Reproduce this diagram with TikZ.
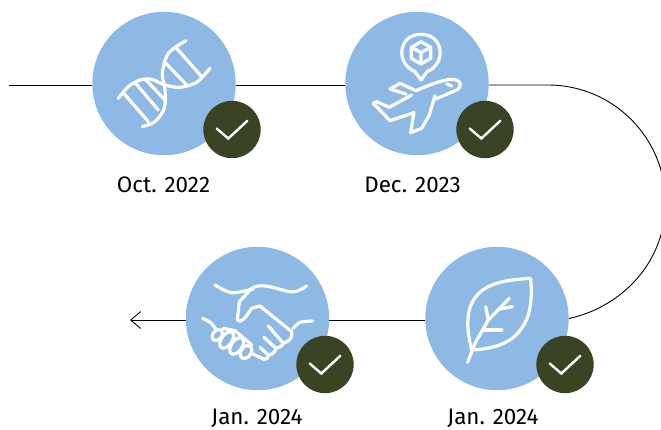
\documentclass[tikz,border=0pt]{standalone}
\usepackage{fontspec}
\setmainfont{Fira Sans}
\usetikzlibrary{arrows.meta}
\definecolor{stepblue}{HTML}{8EB9E5}
\definecolor{checkgreen}{HTML}{3B4325}
\tikzset{
    stepcircle/.style={circle, fill=stepblue, minimum size=143.4pt, inner sep=0pt},
    checkcircle/.style={circle, fill=checkgreen, minimum size=57.4pt, inner sep=0pt},
    datetext/.style={font=\fontsize{22.4}{24}\selectfont, inner sep=0pt, text=black, anchor=base},
    timeline/.style={line width=0.9pt, black},
    iconline/.style={white, line width=3.2pt, line cap=round, line join=round},
    checkmark/.style={white, line width=2.4pt, line cap=round, line join=miter},
    iconscope/.style={shift={#1}, x=0.3333pt, y=-0.3333pt}
}
\newcommand{\tick}[1]{\draw [checkmark] ([shift={(-15.3pt,1pt)}] #1.center) -- ([shift={(-3.7pt,-9pt)}] #1.center) -- ([shift={(15.3pt,8.7pt)}] #1.center);}
\begin{document}
\begin{tikzpicture}[x=1pt, y=-1pt]
    \clip (0,0) rectangle (661,429);
    % the four steps
    \node [stepcircle] (dna) at (164,83.5) {};
    \node [stepcircle] (plane) at (417,83.5) {};
    \node [stepcircle] (leaf) at (497,318.5) {};
    \node [stepcircle] (hands) at (257.5,318.5) {};
    \node [checkcircle] (dnacheck) at (232,129.5) {};
    \node [checkcircle] (planecheck) at (485,129.5) {};
    \node [checkcircle] (leafcheck) at (565,364.5) {};
    \node [checkcircle] (handscheck) at (325,364.5) {};
    \node [datetext] (dnadate) at (163.5,192) {Oct. 2022};
    \node [datetext] (planedate) at (412.5,192) {Dec. 2023};
    \node [datetext] (leafdate) at (493,424.5) {Jan. 2024};
    \node [datetext] (handsdate) at (257,424.5) {Jan. 2024};
    % the line
    \coordinate (start) at (9,85);
    \coordinate (end) at (130,320);
    \draw [timeline] (start) -- (start -| dna.west);
    \draw [timeline] (start -| dna.east) -- (start -| plane.west);
    \draw [timeline] (start -| plane.east) -- (548,85) .. controls (613,85) and (665.5,137.6) .. (665.5,202.5) .. controls (665.5,262) and (622,307) .. (leaf.east);
    \draw [timeline] (end -| leaf.west) -- (end -| hands.east);
    \draw [timeline, <-, >={Straight Barb[length=10pt, width=17pt]}] (end) -- (end -| hands.west);
    % check marks
    \tick{dnacheck}
    \tick{planecheck}
    \tick{leafcheck}
    \tick{handscheck}
    % dna
    \begin{scope}[iconscope={(85,0)}]
        \draw [iconline] plot [smooth] coordinates {(100,295) (130,260) (165,240) (200,238) (240,255) (285,262) (335,247) (375,205)};
        \draw [iconline] plot [smooth] coordinates {(172,380) (210,365) (238,325) (240,270) (232,220) (250,160) (303,122)};
        \draw [iconline] (118,282) -- (190,365);
        \draw [iconline] (152,250) -- (220,330);
        \draw [iconline] (183,240) -- (240,300);
        \draw [iconline] (243,190) -- (305,255);
        \draw [iconline] (275,145) -- (350,230);
    \end{scope}
    % plane and parcel
    \begin{scope}[iconscope={(340,0)}]
        \draw [iconline] (225,215) .. controls (165,190) and (175,103) .. (243,103) .. controls (311,103) and (321,190) .. (261,215) -- (243,240) -- cycle;
        \draw [iconline] (243,125) -- (272,142) -- (272,175) -- (243,192) -- (214,175) -- (214,142) -- cycle;
        \draw [iconline] (214,142) -- (243,158) -- (272,142) (243,158) -- (243,192);
        \draw [iconline] (215,285) -- (148,322) -- (110,305) -- (100,310) -- (150,362) -- (222,338) -- (212,398) -- (245,385) -- (268,345) -- (285,287);
        \draw [iconline] (280,300) -- (350,270) .. controls (368,260) and (365,238) .. (335,238) .. controls (310,238) and (260,258) .. (228,272) -- (180,250) -- (150,267) -- (198,282);
        \draw [iconline] (320,252) -- (335,258);
    \end{scope}
    % leaf
    \begin{scope}[iconscope={(420,240)}]
        \draw [iconline] (332,115) .. controls (250,120) and (185,130) .. (155,190) .. controls (135,235) and (145,290) .. (155,330) .. controls (250,325) and (300,295) .. (325,225) .. controls (335,190) and (335,150) .. (332,115) -- cycle;
        \draw [iconline] (143,367) -- (165,310) -- (205,240) -- (268,175);
        \draw [iconline] (205,240) -- (197,200);
        \draw [iconline] (235,208) -- (278,200);
        \draw [iconline] (190,270) -- (245,270);
    \end{scope}
    % handshake
    \begin{scope}[iconscope={(120,240)}]
        \draw [iconline] plot [smooth] coordinates {(285,135) (335,158) (400,147)};
        \draw [iconline] (560,138) .. controls (520,165) and (510,155) .. (480,148) .. controls (450,140) and (420,130) .. (395,145) -- (358,185) -- (352,240) .. controls (365,250) and (375,235) .. (395,205) -- (420,198) -- (515,275) .. controls (520,295) and (505,305) .. (490,310) -- (445,258);
        \draw [iconline] plot [smooth] coordinates {(520,265) (540,247) (578,243)};
        \draw [iconline] (490,310) .. controls (485,320) and (478,323) .. (468,325) -- (432,292);
        \draw [iconline] (468,325) .. controls (465,338) and (455,345) .. (445,345) -- (420,322);
        \draw [iconline] (445,345) .. controls (445,355) and (440,358) .. (432,358) -- (395,340);
        \draw [iconline] plot [smooth] coordinates {(248,235) (272,248) (288,268)};
        \draw [iconline] (310,265) -- (345,272) -- (395,315);
        \draw [iconline, rotate around={50:(292,285)}] (292,285) ellipse [x radius=19, y radius=13];
        \draw [iconline, rotate around={55:(320,300)}] (320,300) ellipse [x radius=28, y radius=16];
        \draw [iconline, rotate around={55:(350,318)}] (350,318) ellipse [x radius=28, y radius=16];
        \draw [iconline, rotate around={55:(378,336)}] (378,336) ellipse [x radius=21, y radius=15];
    \end{scope}
\end{tikzpicture}
\end{document}
